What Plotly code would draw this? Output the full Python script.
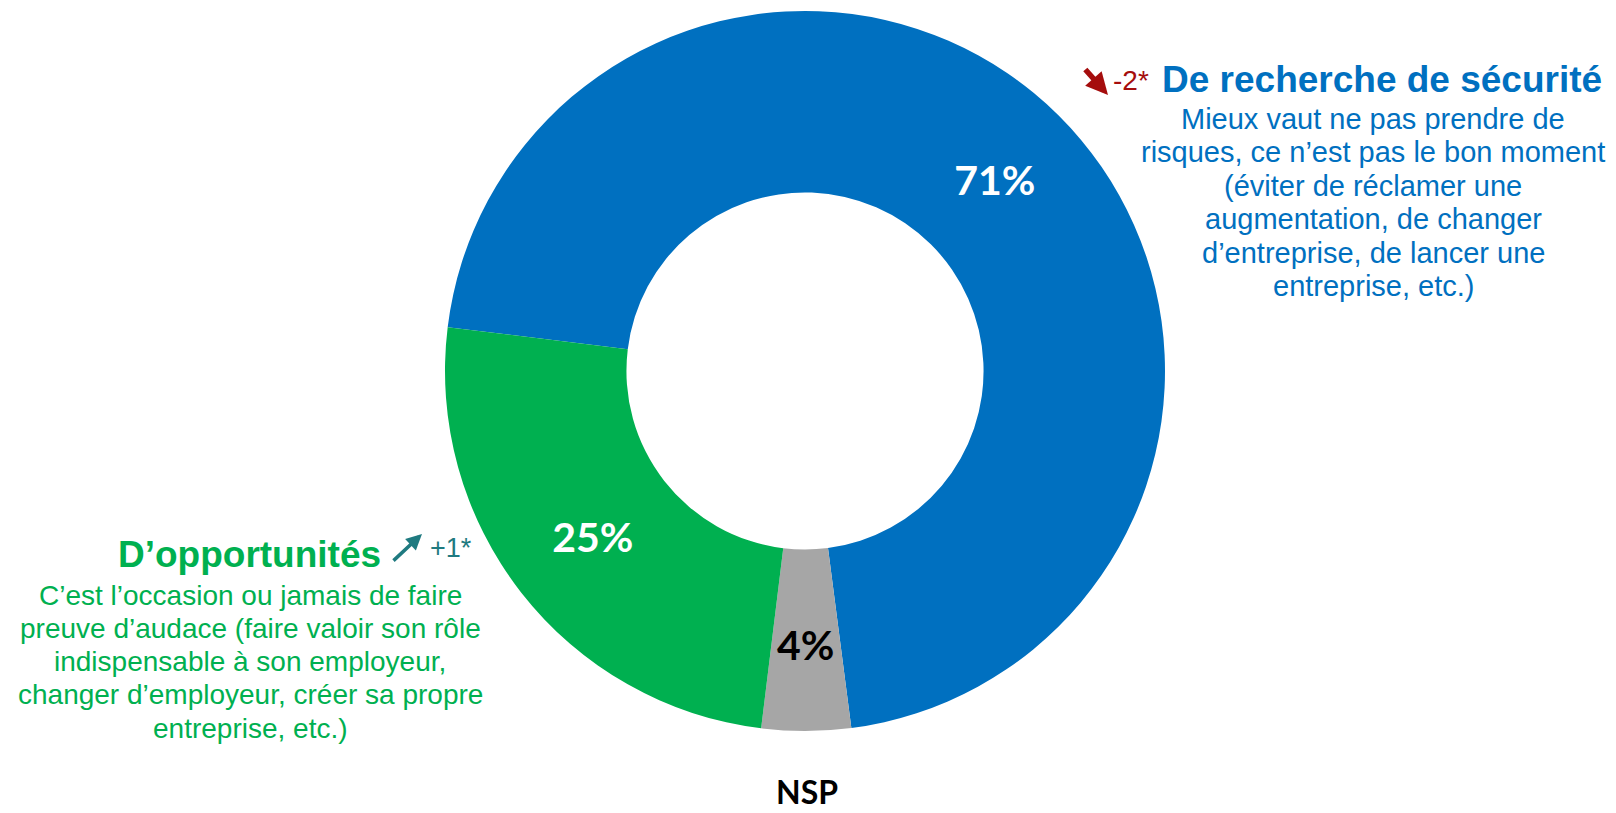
import math
import plotly.graph_objects as go

# ---- data ----
categories = ["De recherche de sécurité", "NSP", "D’opportunités"]
values = [71, 4, 25]
slice_colors = ["#0070C0", "#A6A6A6", "#00B050"]
label_colors = ["#FFFFFF", "#000000", "#FFFFFF"]
evolutions = ["-2*", None, "+1*"]
blue_lines = ["Mieux vaut ne pas prendre de",
              "risques, ce n’est pas le bon moment",
              "(éviter de réclamer une",
              "augmentation, de changer",
              "d’entreprise, de lancer une",
              "entreprise, etc.)"]
green_lines = ["C’est l’occasion ou jamais de faire",
               "preuve d’audace (faire valoir son rôle",
               "indispensable à son employeur,",
               "changer d’employeur, créer sa propre",
               "entreprise, etc.)"]

W, H = 1616, 813
CX, CY, R = 805, 371, 360
HOLE = 0.496
ROT = 277

def px(x):
    return x / W

def py(y):
    return 1 - y / H

fig = go.Figure()
fig.add_trace(go.Pie(
    labels=categories,
    values=values,
    sort=False,
    direction="clockwise",
    rotation=ROT,
    hole=HOLE,
    marker=dict(colors=slice_colors, line=dict(width=0)),
    texttemplate=["%{value}%", "", "%{value}%"],
    textposition=["inside", "none", "inside"],
    insidetextorientation="horizontal",
    insidetextfont=dict(family="Lato", size=41, color=label_colors, weight="bold"),
    hoverinfo="label+percent",
    showlegend=False,
    domain=dict(x=[px(CX - R), px(CX + R)], y=[py(CY + R), py(CY - R)]),
))

blue = "#0070C0"
green = "#00B050"
red = "#A50D0D"
teal = "#1F7A80"
font = "Liberation Sans"

ann = []

# label of the thin NSP slice, placed at its mid angle / mid radius
total = sum(values)
cum = sum(values[:1])
mid = math.radians(ROT + 360 * (cum + values[1] / 2) / total)
rm = R * (1 + HOLE) / 2
ann.append(dict(x=px(CX + rm * math.sin(mid)), y=py(CY - rm * math.cos(mid) + 4),
                text="<b>%d%%</b>" % values[1],
                font=dict(family="Lato", size=41, color=label_colors[1])))

# Blue block
ann.append(dict(x=px(1382), y=py(79), text="<b>" + categories[0] + "</b>",
                font=dict(family=font, size=37, color=blue)))
ann.append(dict(x=px(1131), y=py(81), text=evolutions[0],
                font=dict(family=font, size=28, color=red)))
for i, line in enumerate(blue_lines):
    ann.append(dict(x=px(1373), y=py(119 + 33.4 * i), text=line,
                    font=dict(family=font, size=29, color=blue)))
# Green block
ann.append(dict(x=px(249), y=py(554), text="<b>" + categories[2] + "</b>",
                font=dict(family=font, size=37, color=green)))
ann.append(dict(x=px(451), y=py(548), text=evolutions[2],
                font=dict(family=font, size=27, color=teal)))
for i, line in enumerate(green_lines):
    ann.append(dict(x=px(250), y=py(595 + 33.3 * i), text=line,
                    font=dict(family=font, size=28, color=green)))

for a in ann:
    a.update(xref="paper", yref="paper", showarrow=False, xanchor="center", yanchor="middle")

# NSP (anchored to the bottom edge so it stays fully inside)
ann.append(dict(x=px(807), y=0, xref="paper", yref="paper", showarrow=False,
                xanchor="center", yanchor="bottom",
                text="<b>" + categories[1] + "</b>",
                font=dict(family="Lato", size=32, color="#000000")))

# trend arrows
ann.append(dict(x=px(1108), y=py(95), ax=-24, ay=-27, xref="paper", yref="paper",
                text="", showarrow=True, arrowhead=2, arrowsize=0.8, arrowwidth=5.5, arrowcolor=red))
ann.append(dict(x=px(422), y=py(534), ax=-30, ay=28, xref="paper", yref="paper",
                text="", showarrow=True, arrowhead=2, arrowsize=0.9, arrowwidth=3.5, arrowcolor=teal))

fig.update_layout(
    width=W, height=H,
    margin=dict(l=0, r=0, t=0, b=0),
    paper_bgcolor="white", plot_bgcolor="white",
    uniformtext=dict(minsize=41, mode="show"),
    annotations=ann,
)

fig.write_html("out.html", config={"displayModeBar": False},
               post_script="document.body.style.margin='0';document.body.style.overflow='hidden';")
